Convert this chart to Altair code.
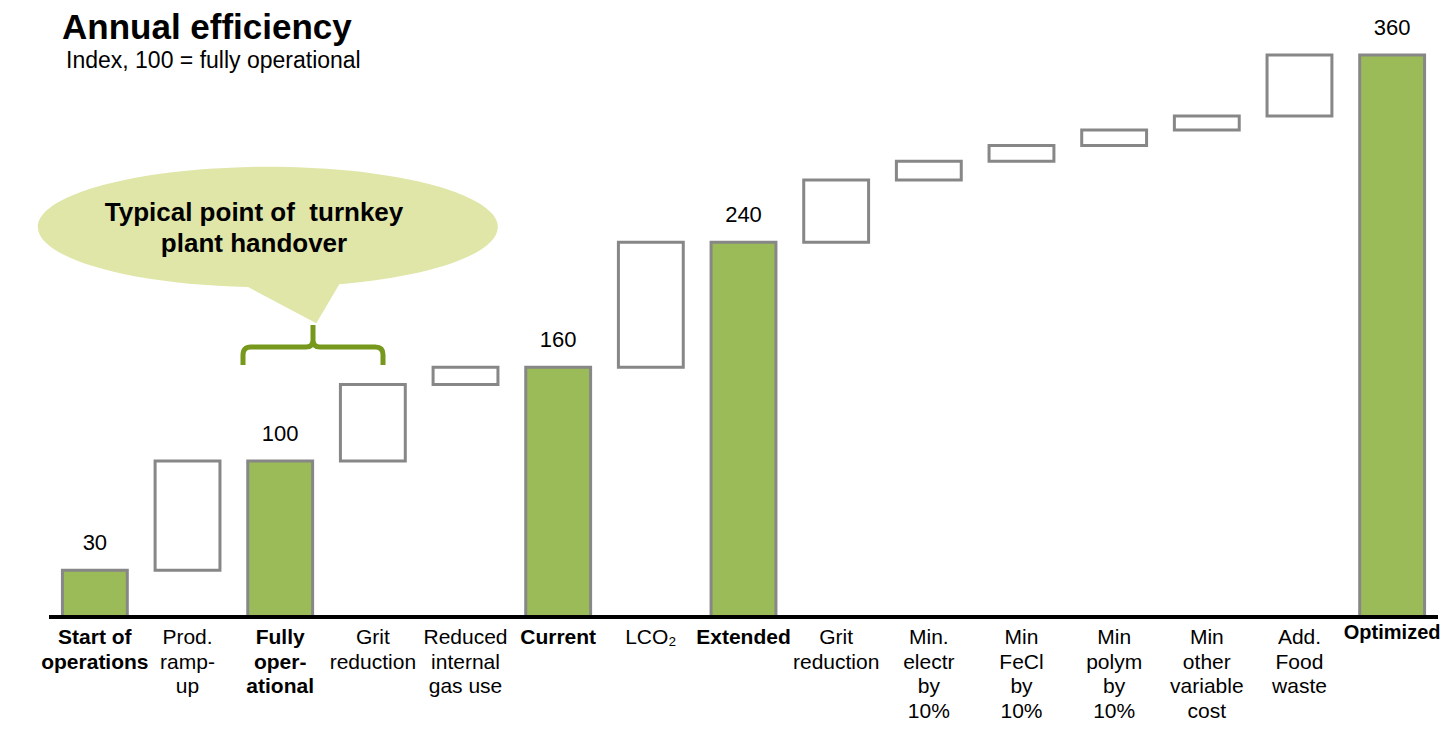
import altair as alt
import pandas as pd

# ---- data ----
ids = list(range(15))
labels = [
    "Start of\noperations", "Prod.\nramp-\nup", "Fully\noper-\national", "Grit\nreduction",
    "Reduced\ninternal\ngas use", "Current", "LCO\u2082", "Extended", "Grit\nreduction",
    "Min.\nelectr\nby\n10%", "Min\nFeCl\nby\n10%", "Min\npolym\nby\n10%",
    "Min\nother\nvariable\ncost", "Add.\nFood\nwaste", "Optimized",
]
kinds = ["total", "delta", "total", "delta", "delta", "total", "delta", "total",
         "delta", "delta", "delta", "delta", "delta", "delta", "total"]
values = [30, 70, 100, 49, 11, 160, 80, 240, 40, 12, 10, 10, 9, 39, 360]

starts, ends = [], []
level = 0
for k, v in zip(kinds, values):
    if k == "total":
        starts.append(0); ends.append(v); level = v
    else:
        starts.append(level); ends.append(level + v); level += v

df = pd.DataFrame({"id": ids, "label": labels, "kind": kinds, "value": values,
                   "start": starts, "end": ends})

W, H = 1389, 562
GREEN = "#9BBB59"
GREY = "#878787"
FONT = "Liberation Sans"

xscale = alt.Scale(domain=ids, paddingInner=0.3, paddingOuter=0.145)
yscale = alt.Scale(domain=[0, 360], nice=False, zero=True)
X = alt.X("id:O", scale=xscale, axis=None)

base = alt.Chart(df)

bars = base.mark_bar(stroke=GREY, strokeWidth=3).encode(
    x=X,
    y=alt.Y("start:Q", scale=yscale, axis=None),
    y2="end:Q",
    fill=alt.when(alt.datum.kind == "total").then(alt.value(GREEN)).otherwise(alt.value("white")),
)

value_labels = base.transform_filter(alt.datum.kind == "total").mark_text(
    font=FONT, fontSize=22, baseline="alphabetic", dy=-20, color="black"
).encode(x=X, y=alt.Y("end:Q", scale=yscale, axis=None), text="value:Q")

baseline = alt.Chart(pd.DataFrame({"a": [0]})).mark_rule(color="black", strokeWidth=4).encode(
    y=alt.value(H), x=alt.value(0), x2=alt.value(W)
)

LBL_Y = H + 10
LH = 24.5

cat_regular = base.transform_filter(alt.datum.kind == "delta").mark_text(
    font=FONT, fontSize=21, baseline="top", lineBreak="\n", lineHeight=LH, color="black"
).encode(x=X, y=alt.value(LBL_Y), text="label:N")

cat_bold = base.transform_filter(
    (alt.datum.kind == "total") & (alt.datum.id != 14)
).mark_text(
    font=FONT, fontSize=21, fontWeight="bold", baseline="top", lineBreak="\n",
    lineHeight=LH, color="black"
).encode(x=X, y=alt.value(LBL_Y), text="label:N")

cat_last = base.transform_filter(alt.datum.id == 14).mark_text(
    font=FONT, fontSize=20, fontWeight="bold", baseline="top", color="black"
).encode(x=X, y=alt.value(LBL_Y - 4), text="label:N")

one = alt.Chart(pd.DataFrame({"a": [0]}))

title = one.mark_text(font=FONT, fontSize=35, fontWeight="bold", align="left",
                      baseline="middle", color="black").encode(
    x=alt.value(13), y=alt.value(-27), text=alt.value("Annual efficiency"))
subtitle = one.mark_text(font=FONT, fontSize=23, align="left", baseline="middle",
                         color="black").encode(
    x=alt.value(17), y=alt.value(6), text=alt.value("Index, 100 = fully operational"))

bubble_path = "M -0.087 0.261 L 0.21 0.419 L 0.31 0.249 A 1 0.262 0 1 0 -0.087 0.261 Z"
bubble = one.mark_point(shape=bubble_path, filled=True, fill="#E0E6A8", opacity=1,
                        strokeWidth=0, size=460 * 460).encode(
    x=alt.value(219), y=alt.value(172))
bubble_text = one.mark_text(font=FONT, fontSize=26, fontWeight="bold", align="center",
                            baseline="middle", lineBreak="\n", lineHeight=31,
                            color="black").encode(
    x=alt.value(205), y=alt.value(158),
    text=alt.value("Typical point of\u00a0 turnkey\nplant handover"))

bracket_path = ("M -1 0.286 L -1 0.14 Q -1 0.03 -0.89 0.03 L -0.1 0.03 Q 0 0.03 0 -0.07 "
                "L 0 -0.286 M 0 -0.07 Q 0 0.03 0.1 0.03 L 0.89 0.03 Q 1 0.03 1 0.14 L 1 0.286")
bracket = one.mark_point(shape=bracket_path, filled=False, stroke="#76981C", strokeWidth=5,
                         opacity=1, size=140 * 140).encode(
    x=alt.value(264), y=alt.value(290))

chart = alt.layer(
    bubble, bracket, bars, baseline, value_labels, cat_regular, cat_bold, cat_last,
    title, subtitle, bubble_text
).properties(
    width=W, height=H, autosize="none",
    padding={"left": 41, "top": 47, "right": 8, "bottom": 106},
).configure_view(stroke=None)

chart.save("out.html", embed_options={"renderer": "svg", "actions": False})
